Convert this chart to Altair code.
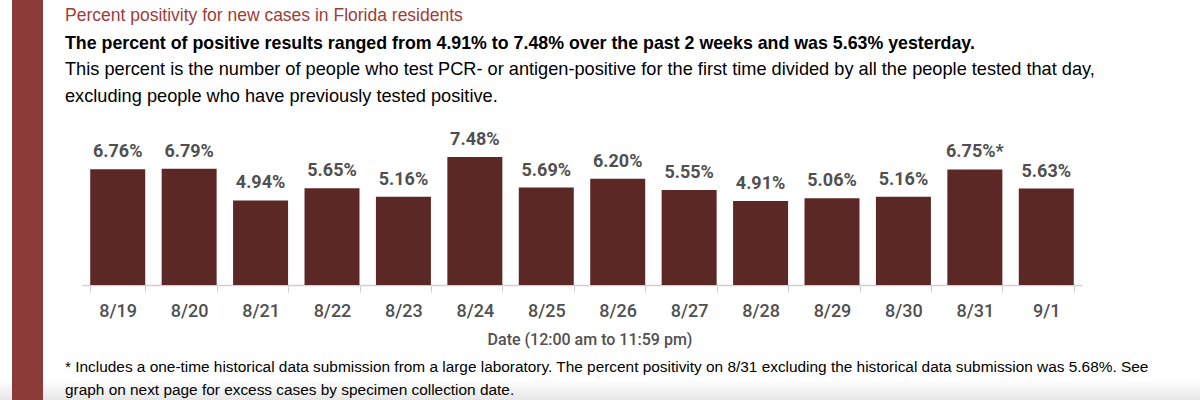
import altair as alt
import pandas as pd

dates = ["8/19", "8/20", "8/21", "8/22", "8/23", "8/24", "8/25", "8/26", "8/27", "8/28", "8/29", "8/30", "8/31", "9/1"]
values = [6.76, 6.79, 4.94, 5.65, 5.16, 7.48, 5.69, 6.20, 5.55, 4.91, 5.06, 5.16, 6.75, 5.63]
notes = ["", "", "", "", "", "", "", "", "", "", "", "", "*", ""]

title_text = "Percent positivity for new cases in Florida residents"
subtitle_bold = "The percent of positive results ranged from 4.91% to 7.48% over the past 2 weeks and was 5.63% yesterday."
subtitle_lines = [
    "This percent is the number of people who test PCR- or antigen-positive for the first time divided by all the people tested that day,",
    "excluding people who have previously tested positive.",
]
axis_title = "Date (12:00 am to 11:59 pm)"
footnote_lines = [
    "* Includes a one-time historical data submission from a large laboratory. The percent positivity on 8/31 excluding the historical data submission was 5.68%. See",
    "graph on next page for excess cases by specimen collection date.",
]

df = pd.DataFrame({"date": dates, "value": values, "note": notes})
df["label"] = [f"{v:.2f}%{n}" for v, n in zip(values, notes)]

W, H = 1000, 137
LEFT, TOP = 82, 148
FONT = "Liberation Sans"
LFONT = "Roboto"
GRAY = "#505050"

base = alt.Chart(df)

xenc = alt.X("date:N", sort=dates, title=None,
             scale=alt.Scale(paddingInner=0.23, paddingOuter=0.115),
             axis=alt.Axis(labelAngle=0, labelFontSize=18, labelFont=LFONT, labelFontWeight=500,
                           labelColor=GRAY, labelPadding=10, domainColor="#d0d0d0", tickColor="#d0d0d0",
                           tickSize=7, tickBand="extent", domainWidth=1.5))

bars = base.mark_bar(color="#5c2825").encode(
    x=xenc,
    y=alt.Y("value:Q", scale=alt.Scale(domain=[0, 8]), axis=None),
)

labels = base.mark_text(dy=-17, font=LFONT, fontSize=18, fontWeight="bold", color=GRAY).encode(
    x=alt.X("date:N", sort=dates),
    y="value:Q",
    text="label:N",
)

def txt(s, x, y, size, color="#000000", weight="normal", font=FONT, align="left"):
    return alt.Chart(pd.DataFrame({"t": [s]})).mark_text(
        align=align, baseline="middle", fontSize=size, color=color, fontWeight=weight, font=font
    ).encode(x=alt.value(x), y=alt.value(y), text="t:N")

shade = alt.Chart(pd.DataFrame({"a": [0]})).mark_rect(
    color=alt.LinearGradient(gradient="linear", x1=0, y1=0, x2=0, y2=1,
                             stops=[alt.GradientStop(color="#ffffff", offset=0),
                                    alt.GradientStop(color="#e6e6e6", offset=1)])
).encode(x=alt.value(-LEFT), x2=alt.value(1200 - LEFT), y=alt.value(380 - TOP), y2=alt.value(400 - TOP))

stripe = alt.Chart(pd.DataFrame({"a": [0]})).mark_rect(color="#8c3b39").encode(
    x=alt.value(12 - LEFT), x2=alt.value(43 - LEFT), y=alt.value(-TOP), y2=alt.value(400 - TOP)
)

texts = [
    txt(title_text, 65 - LEFT, 16 - TOP, 17.5, color="#9e3d37"),
    txt(subtitle_bold, 65 - LEFT, 44 - TOP, 17.8, weight="bold"),
    txt(subtitle_lines[0], 65 - LEFT, 70 - TOP, 18.2),
    txt(subtitle_lines[1], 65 - LEFT, 97 - TOP, 18.2),
    txt(axis_title, 590 - LEFT, 340 - TOP, 16, color=GRAY, font=LFONT, weight=500, align="center"),
    txt(footnote_lines[0], 65 - LEFT, 367 - TOP, 15.4),
    txt(footnote_lines[1], 65 - LEFT, 390 - TOP, 15.4),
]

chart = alt.layer(shade, stripe, bars, labels, *texts).properties(
    width=W, height=H,
    autosize=alt.AutoSizeParams(type="none"),
    padding={"left": LEFT, "top": TOP, "right": 1200 - LEFT - W, "bottom": 400 - TOP - H},
    background="white",
).configure_view(stroke=None)

chart.save("out.html", embed_options={"renderer": "svg", "actions": False})
